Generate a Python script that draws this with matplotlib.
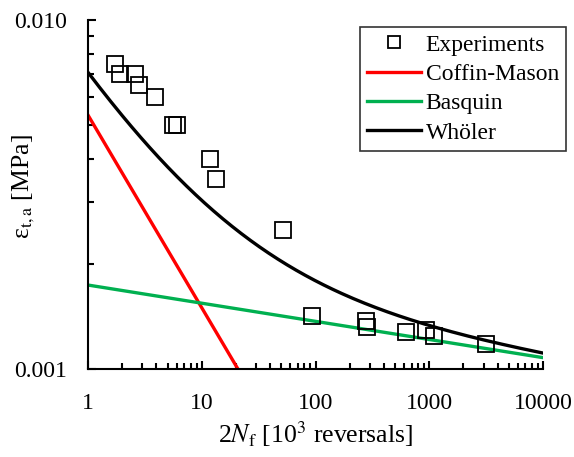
import matplotlib
matplotlib.use('Agg')
import matplotlib.pyplot as plt
import numpy as np
from matplotlib.ticker import FixedLocator, FixedFormatter, LogLocator, NullFormatter

plt.rcParams['font.family'] = 'Liberation Serif'
plt.rcParams['mathtext.fontset'] = 'stix'

# experiments (2Nf in 10^3 reversals, strain amplitude)
exp_n = [1.73, 1.91, 2.59, 2.81, 3.88, 5.59, 6.06, 11.8, 13.3, 51.8,
         93, 278, 284, 625, 936, 1100, 3155]
exp_eps = [0.00748, 0.0070, 0.0070, 0.00652, 0.00601, 0.0050, 0.0050, 0.0040,
           0.0035, 0.0025, 0.00142, 0.00137, 0.00132, 0.00128, 0.00129,
           0.00124, 0.00118]

# fitted parameters
eps_f = 0.00534   # Coffin-Manson coefficient
c_exp = -0.552
sig_f = 0.00174   # Basquin coefficient
b_exp = -0.052

n = np.logspace(0, 4, 200)
cm = eps_f * n ** c_exp
bq = sig_f * n ** b_exp
wo = cm + bq

fig = plt.figure(figsize=(5.74, 4.57), dpi=100)
ax = fig.add_axes([88/574, 88/457, 455/574, 349/457])

ax.plot(exp_n, exp_eps, 's', ms=11, mfc='none', mec='black', mew=1.3,
        label='Experiments', zorder=5)
ax.plot(n, cm, color='#ff0000', lw=2.4, label='Coffin-Mason')
ax.plot(n, bq, color='#00b050', lw=2.4, label='Basquin')
ax.plot(n, wo, color='black', lw=2.4, label='Whöler')

ax.set_xscale('log')
ax.set_yscale('log')
ax.set_xlim(1, 10000)
ax.set_ylim(0.001, 0.010)

ax.xaxis.set_major_locator(FixedLocator([1, 10, 100, 1000, 10000]))
ax.xaxis.set_major_formatter(FixedFormatter(['1', '10', '100', '1000', '10000']))
ax.xaxis.set_minor_locator(LogLocator(base=10, subs=np.arange(2, 10)))
ax.xaxis.set_minor_formatter(NullFormatter())
ax.yaxis.set_major_locator(FixedLocator([0.001, 0.010]))
ax.yaxis.set_major_formatter(FixedFormatter(['0.001', '0.010']))
ax.yaxis.set_minor_locator(FixedLocator(np.arange(2, 10) * 0.001))
ax.yaxis.set_minor_formatter(NullFormatter())

ax.tick_params(which='both', direction='in', labelsize=17, width=1.5)
ax.tick_params(which='major', length=6)
ax.tick_params(axis='x', which='major', pad=17)
ax.tick_params(axis='y', which='major', pad=15)
ax.tick_params(which='minor', length=4)
ax.spines['top'].set_visible(False)
ax.spines['right'].set_visible(False)
ax.spines['left'].set_linewidth(1.5)
ax.spines['bottom'].set_linewidth(1.5)

ax.set_xlabel(r'2$\mathit{N}_\mathrm{f}$ [10$^3$ reversals]', fontsize=18.5, labelpad=4)
ax.set_ylabel('ε$_\\mathrm{t,a}$ [MPa]', fontsize=18.5)
ax.yaxis.set_label_coords(-0.112, 0.524)

leg = ax.legend(loc='upper right', bbox_to_anchor=(1.0505, 0.98), fontsize=17,
                frameon=True, fancybox=False, edgecolor='black',
                handlelength=2.3, handletextpad=0.2, borderpad=0.3,
                borderaxespad=0.0, labelspacing=0.33, markerscale=0.75)
leg.get_frame().set_linewidth(1.2)

fig.savefig('out.png', dpi=100)
